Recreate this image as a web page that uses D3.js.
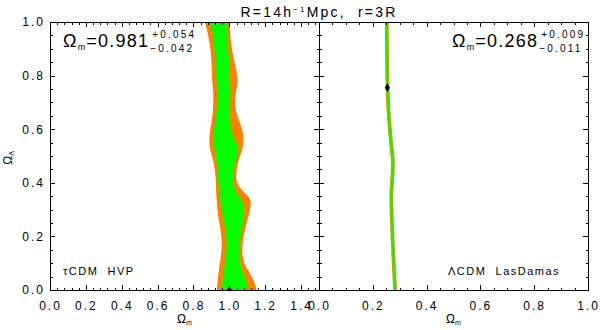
<!DOCTYPE html>
<html>
<head>
<meta charset="utf-8">
<script src="https://cdn.jsdelivr.net/npm/d3@7"></script>
<style>
body { margin: 0; background: #fff; }
svg text { font-family: "Liberation Sans", Arial, sans-serif; fill: #000; }
.axis path, .axis line { stroke: #000; stroke-width: 1; shape-rendering: crispEdges; }
.axis text { font-family: "Liberation Sans", Arial, sans-serif; font-size: 12px; letter-spacing: 2px; }
</style>
</head>
<body>
<svg id="chart" width="600" height="330"></svg>
<script>
// ---- left panel : tauCDM HVP, contour edges read per Omega_Lambda level
var lamLeft     = [1.00, 0.95, 0.90, 0.84, 0.80, 0.77, 0.74, 0.68, 0.63, 0.58, 0.53, 0.485, 0.448, 0.40, 0.36, 0.336, 0.30, 0.25, 0.20, 0.15, 0.10, 0.063, 0.025, 0.00];
var outerLoLeft = [0.864, 0.883, 0.896, 0.902, 0.902, 0.906, 0.911, 0.911, 0.902, 0.888, 0.888, 0.911, 0.920, 0.926, 0.926, 0.930, 0.933, 0.944, 0.958, 0.958, 0.948, 0.939, 0.933, 0.931];
var innerLoLeft = [0.892, 0.911, 0.916, 0.926, 0.926, 0.930, 0.933, 0.933, 0.920, 0.911, 0.913, 0.930, 0.933, 0.939, 0.944, 0.948, 0.958, 0.970, 0.985, 0.985, 0.976, 0.967, 0.959, 0.959];
var innerHiLeft = [0.987, 0.985, 0.994, 1.000, 1.004, 1.004, 1.008, 1.004, 1.004, 1.013, 1.060, 1.037, 1.022, 1.019, 1.041, 1.069, 1.088, 1.078, 1.060, 1.056, 1.056, 1.078, 1.097, 1.106];
var outerHiLeft = [1.001, 1.004, 1.013, 1.032, 1.045, 1.046, 1.037, 1.026, 1.056, 1.082, 1.078, 1.050, 1.041, 1.032, 1.088, 1.125, 1.115, 1.097, 1.078, 1.069, 1.078, 1.115, 1.143, 1.152];
var bestLeft = [1.0, 0.0];

// ---- right panel : LCDM LasDamas, very thin band
var lamRight     = [1.0, 0.755, 0.653, 0.554, 0.504, 0.466, 0.38, 0.355, 0.28, 0.156, 0.032, 0.0];
var outerLoRight = [0.245, 0.247, 0.252, 0.260, 0.266, 0.269, 0.263, 0.261, 0.263, 0.268, 0.274, 0.276];
var innerLoRight = [0.248, 0.250, 0.255, 0.263, 0.269, 0.272, 0.266, 0.264, 0.266, 0.271, 0.277, 0.279];
var innerHiRight = [0.256, 0.258, 0.263, 0.271, 0.277, 0.280, 0.274, 0.272, 0.274, 0.279, 0.285, 0.287];
var outerHiRight = [0.259, 0.261, 0.266, 0.274, 0.280, 0.283, 0.277, 0.275, 0.277, 0.282, 0.288, 0.290];
var bestRight = [0.254, 0.755];

// ticks
var xTicksLeft  = [0.0, 0.2, 0.4, 0.6, 0.8, 1.0, 1.2, 1.4];
var xTicksRight = [0.0, 0.2, 0.4, 0.6, 0.8, 1.0];
var yTicks      = [0.0, 0.2, 0.4, 0.6, 0.8, 1.0];

var colOuter = "#ff7f00";
var colInner = "#00ff00";

var svg = d3.select("#chart");
var top0 = 22, bottom0 = 290;
var y = d3.scaleLinear().domain([0, 1]).range([bottom0, top0]);

function Rows(lam, lo, hi) {
	var rows = [];
	for (var i = 0; i < lam.length; i++) {
		rows.push({ lam: lam[i], lo: lo[i], hi: hi[i] });
	}
	return rows;
}

function DrawPanel(id, x, majors, minorStep, showY, c) {
	var x0 = x.range()[0], x1 = x.range()[1];
	var fmt = d3.format(".1f");

	svg.append("clipPath").attr("id", "clip" + id)
		.append("rect")
		.attr("x", x0).attr("y", top0)
		.attr("width", x1 - x0).attr("height", bottom0 - top0);

	var g = svg.append("g").attr("clip-path", "url(#clip" + id + ")");

	var area = d3.area()
		.curve(d3.curveBasis)
		.y(function(d) { return y(d.lam); })
		.x0(function(d) { return x(d.lo); })
		.x1(function(d) { return x(d.hi); });

	g.append("path").attr("d", area(Rows(c.lam, c.outerLo, c.outerHi))).attr("fill", colOuter);
	g.append("path").attr("d", area(Rows(c.lam, c.innerLo, c.innerHi))).attr("fill", colInner);

	g.append("path")
		.attr("transform", "translate(" + x(c.best[0]) + "," + y(c.best[1]) + ")")
		.attr("d", d3.symbol().type(d3.symbolDiamond).size(22)())
		.attr("fill", "#000");

	var xMinor = d3.range(0, x.domain()[1] + 1e-6, minorStep);
	var yMinor = d3.range(0, 1.0001, 0.05);

	// bottom axis with labels, top axis without
	svg.append("g").attr("class", "axis")
		.attr("transform", "translate(0," + bottom0 + ")")
		.call(d3.axisBottom(x).tickValues(majors).tickFormat(fmt).tickSizeInner(-5).tickSizeOuter(0).tickPadding(11));
	svg.append("g").attr("class", "axis")
		.attr("transform", "translate(0," + bottom0 + ")")
		.call(d3.axisBottom(x).tickValues(xMinor).tickFormat("").tickSizeInner(-2.5).tickSizeOuter(0));
	svg.append("g").attr("class", "axis")
		.attr("transform", "translate(0," + top0 + ")")
		.call(d3.axisTop(x).tickValues(majors).tickFormat("").tickSizeInner(-5).tickSizeOuter(0));
	svg.append("g").attr("class", "axis")
		.attr("transform", "translate(0," + top0 + ")")
		.call(d3.axisTop(x).tickValues(xMinor).tickFormat("").tickSizeInner(-2.5).tickSizeOuter(0));

	// left and right axes
	svg.append("g").attr("class", "axis")
		.attr("transform", "translate(" + x0 + ",0)")
		.call(d3.axisLeft(y).tickValues(yTicks).tickFormat(showY ? fmt : "").tickSizeInner(-5).tickSizeOuter(0).tickPadding(5));
	svg.append("g").attr("class", "axis")
		.attr("transform", "translate(" + x0 + ",0)")
		.call(d3.axisLeft(y).tickValues(yMinor).tickFormat("").tickSizeInner(-2.5).tickSizeOuter(0));
	svg.append("g").attr("class", "axis")
		.attr("transform", "translate(" + x1 + ",0)")
		.call(d3.axisRight(y).tickValues(yTicks).tickFormat("").tickSizeInner(-5).tickSizeOuter(0));
	svg.append("g").attr("class", "axis")
		.attr("transform", "translate(" + x1 + ",0)")
		.call(d3.axisRight(y).tickValues(yMinor).tickFormat("").tickSizeInner(-2.5).tickSizeOuter(0));

	svg.selectAll(".axis .domain").attr("fill", "none");

	// x title
	var xt = svg.append("text")
		.attr("x", (x0 + x1) / 2).attr("y", 323)
		.attr("text-anchor", "middle").attr("font-size", 12);
	xt.append("tspan").text("Ω");
	xt.append("tspan").attr("font-size", 7).attr("dy", 2).text("m");
}

function Result(xStart, val, plus, minus) {
	var t = svg.append("text").attr("x", xStart).attr("y", 47)
		.attr("font-size", 18).attr("letter-spacing", "1.2px");
	t.append("tspan").text("Ω");
	t.append("tspan").attr("font-size", 9).attr("dy", 3).text("m");
	t.append("tspan").attr("dy", -3).text("=" + val);
	var w = t.node().getComputedTextLength();
	svg.append("text").attr("x", xStart + w + 3).attr("y", 37.5)
		.attr("font-size", 10).attr("letter-spacing", "2.2px").text(plus);
	svg.append("text").attr("x", xStart + w + 1).attr("y", 51.5)
		.attr("font-size", 10).attr("letter-spacing", "2.2px").text(minus);
}

var xLeft = d3.scaleLinear().domain([0, 1.5]).range([50, 319]);
var xRight = d3.scaleLinear().domain([0, 1.0]).range([319, 588]);

DrawPanel("L", xLeft, xTicksLeft, 0.04, true, {
	lam: lamLeft, outerLo: outerLoLeft, outerHi: outerHiLeft,
	innerLo: innerLoLeft, innerHi: innerHiLeft, best: bestLeft
});
DrawPanel("R", xRight, xTicksRight, 0.05, false, {
	lam: lamRight, outerLo: outerLoRight, outerHi: outerHiRight,
	innerLo: innerLoRight, innerHi: innerHiRight, best: bestRight
});

Result(63, "0.981", "+0.054", "\u22120.042");
Result(452, "0.268", "+0.009", "\u22120.011");

// model labels
svg.append("text").attr("x", 63).attr("y", 275)
	.attr("font-size", 11).attr("letter-spacing", "1.5px")
	.style("white-space", "pre").text("τCDM  HVP");
svg.append("text").attr("x", 448).attr("y", 275)
	.attr("font-size", 11).attr("letter-spacing", "1.5px")
	.style("white-space", "pre").text("ΛCDM  LasDamas");

// title
var title = svg.append("text").attr("x", 319).attr("y", 17)
	.attr("text-anchor", "middle").attr("font-size", 14).attr("letter-spacing", "2.2px")
	.style("white-space", "pre");
title.append("tspan").text("R=14h");
title.append("tspan").attr("font-size", 8).attr("dy", -5).text("−1");
title.append("tspan").attr("dy", 5).text("Mpc,  r=3R");

// y title
var yt = svg.append("text")
	.attr("transform", "translate(12,158) rotate(-90)")
	.attr("text-anchor", "middle").attr("font-size", 12);
yt.append("tspan").text("Ω");
yt.append("tspan").attr("font-size", 7).attr("dy", 2).text("Λ");
</script>
</body>
</html>
